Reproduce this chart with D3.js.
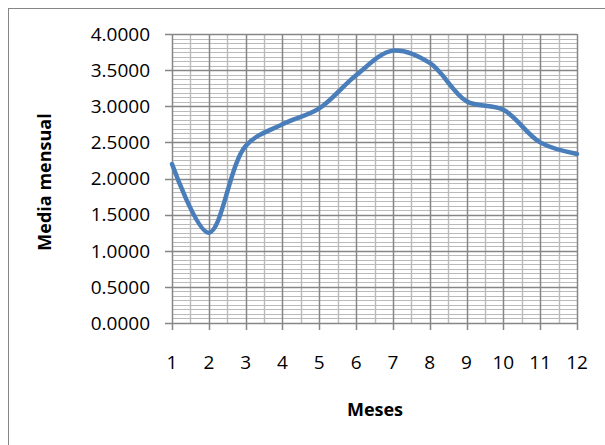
<!DOCTYPE html>
<html>
<head>
<meta charset="utf-8">
<script src="https://cdn.jsdelivr.net/npm/d3@7"></script>
<style>
  body { margin: 0; background: #fff; }
  text { font-family: "Open Sans", Lato, sans-serif; fill: #000; }
</style>
</head>
<body>
<div id="chart"></div>
<script>
// datos
var meses = [1, 2, 3, 4, 5, 6, 7, 8, 9, 10, 11, 12];
var mediaMensual = [2.20, 1.25, 2.45, 2.75, 2.97, 3.43, 3.77, 3.60, 3.07, 2.95, 2.50, 2.34];
var yTicks = [0, 0.5, 1, 1.5, 2, 2.5, 3, 3.5, 4];

var width = 605, height = 445;
var plotLeft = 172, plotRight = 577, plotTop = 34, plotBottom = 323;

var svg = d3.select('#chart').append('svg')
    .attr('width', width)
    .attr('height', height);

// borde del grafico
svg.append('rect')
    .attr('x', 8.5).attr('y', 8.5)
    .attr('width', 620).attr('height', 460)
    .attr('fill', 'none')
    .attr('stroke', '#868686');

var x = d3.scaleLinear().domain([1, 12]).range([plotLeft, plotRight]);
var y = d3.scaleLinear().domain([0, 4]).range([plotBottom, plotTop]);

// rejilla menor horizontal
var minorY = d3.range(0, 4.0001, 0.0625);
svg.append('g').selectAll('line')
    .data(minorY)
    .enter().append('line')
    .attr('x1', plotLeft).attr('x2', plotRight)
    .attr('y1', function(d) { return Math.round(y(d)) + 0.5; })
    .attr('y2', function(d) { return Math.round(y(d)) + 0.5; })
    .attr('stroke', '#bababa')
    .attr('stroke-width', 1.2);

// rejilla menor vertical
var minorX = d3.range(1.5, 12, 1);
svg.append('g').selectAll('line')
    .data(minorX)
    .enter().append('line')
    .attr('y1', plotTop).attr('y2', plotBottom)
    .attr('x1', function(d) { return Math.round(x(d)) + 0.5; })
    .attr('x2', function(d) { return Math.round(x(d)) + 0.5; })
    .attr('stroke', '#bababa')
    .attr('stroke-width', 1.4);

// rejilla mayor
svg.append('g').selectAll('line')
    .data(yTicks)
    .enter().append('line')
    .attr('x1', plotLeft - 7).attr('x2', plotRight)
    .attr('y1', function(d) { return Math.round(y(d)) + 0.5; })
    .attr('y2', function(d) { return Math.round(y(d)) + 0.5; })
    .attr('stroke', '#868686')
    .attr('stroke-width', 1.5);

svg.append('g').selectAll('line')
    .data(meses)
    .enter().append('line')
    .attr('y1', plotTop).attr('y2', plotBottom + 7)
    .attr('x1', function(d) { return Math.round(x(d)) + 0.5; })
    .attr('x2', function(d) { return Math.round(x(d)) + 0.5; })
    .attr('stroke', '#868686')
    .attr('stroke-width', 1.5);

// etiquetas eje y
svg.append('g').selectAll('text')
    .data(yTicks)
    .enter().append('text')
    .attr('x', 150)
    .attr('y', function(d) { return y(d); })
    .attr('dy', '0.36em')
    .attr('text-anchor', 'end')
    .style('font-size', '19px')
    .text(function(d) { return d3.format('.4f')(d); });

// etiquetas eje x
svg.append('g').selectAll('text')
    .data(meses)
    .enter().append('text')
    .attr('x', function(d) { return x(d); })
    .attr('y', 362)
    .attr('dy', '0.36em')
    .attr('text-anchor', 'middle')
    .style('font-size', '19px')
    .text(function(d) { return d; });

// linea suavizada
var line = d3.line()
    .x(function(d, i) { return x(meses[i]); })
    .y(function(d) { return y(d); })
    .curve(d3.curveCatmullRom.alpha(0.5));

svg.append('path')
    .datum(mediaMensual)
    .attr('d', line)
    .attr('fill', 'none')
    .attr('stroke', '#4a7ebb')
    .attr('stroke-width', 4.5)
    .attr('stroke-linecap', 'round');

// titulos de ejes
svg.append('text')
    .attr('x', 375)
    .attr('y', 410)
    .attr('dy', '0.36em')
    .attr('text-anchor', 'middle')
    .style('font-size', '18px')
    .style('font-weight', 'bold')
    .text('Meses');

svg.append('text')
    .attr('transform', 'translate(45,182) rotate(-90)')
    .attr('dy', '0.36em')
    .attr('text-anchor', 'middle')
    .style('font-size', '18px')
    .style('font-weight', 'bold')
    .text('Media mensual');
</script>
</body>
</html>
